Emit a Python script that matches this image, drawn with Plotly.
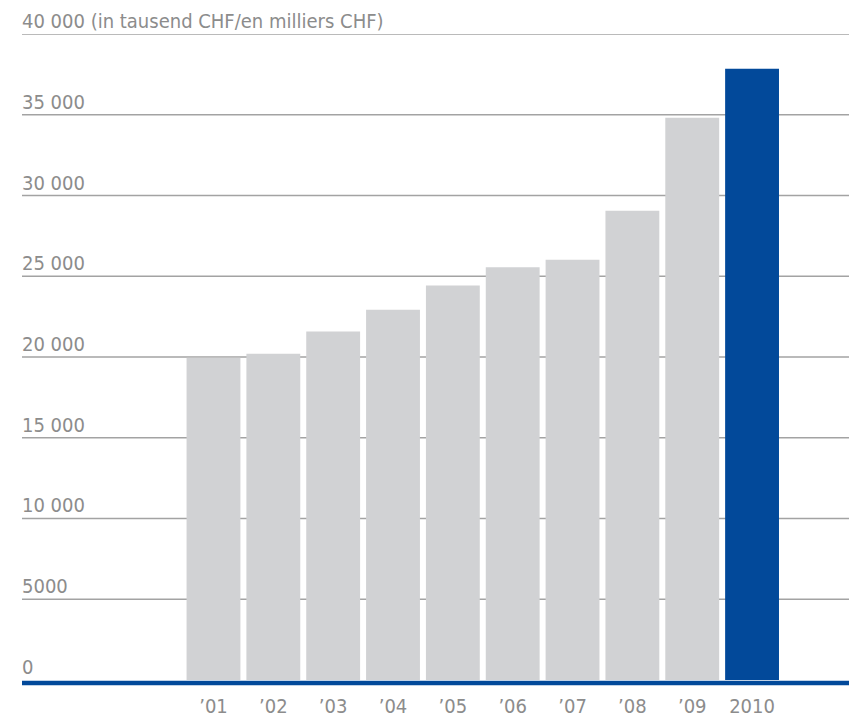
import plotly.graph_objects as go

categories = ["’01", "’02", "’03", "’04", "’05", "’06", "’07", "’08", "’09", "2010"]
values = [19950, 20200, 21580, 22920, 24430, 25550, 26020, 29060, 34820, 37850]
bar_colors = ["#d1d2d4"] * 9 + ["#02499a"]
grid_values = [5000, 10000, 15000, 20000, 25000, 30000, 35000, 40000]
grid_labels = ["5000", "10 000", "15 000", "20 000", "25 000", "30 000", "35 000",
               "40 000 (in tausend CHF/en milliers CHF)"]

FONT = "DejaVu Sans Condensed, Liberation Sans Narrow, Roboto, Arial, sans-serif"
TXT = "#8c8c8c"

fig = go.Figure()
fig.add_trace(go.Bar(x=categories, y=values, marker=dict(color=bar_colors, line=dict(width=0)),
                     hoverinfo="x+y"))

shapes = []
for v in grid_values:
    shapes.append(dict(type="line", xref="paper", yref="y", x0=0, x1=1, y0=v, y1=v,
                       line=dict(color="#a3a3a3", width=1.5), layer="below"))
shapes.append(dict(type="line", xref="paper", yref="y", x0=0, x1=1, y0=-190, y1=-190,
                   line=dict(color="#02499a", width=4.5), layer="above"))

annotations = [dict(x=0, xref="paper", y=0, yref="y", text="0", showarrow=False,
                    xanchor="left", yanchor="bottom", yshift=-1, xshift=-2,
                    font=dict(family=FONT, size=20, color=TXT))]
for v, t in zip(grid_values, grid_labels):
    annotations.append(dict(x=0, xref="paper", y=v, yref="y", text=t, showarrow=False,
                            xanchor="left", yanchor="bottom", yshift=-1, xshift=-2,
                            font=dict(family=FONT, size=20, color=TXT)))

fig.update_layout(
    width=849, height=720,
    margin=dict(l=22, r=0, t=34, b=34),
    paper_bgcolor="white", plot_bgcolor="white",
    bargap=0.1,
    showlegend=False,
    shapes=shapes,
    annotations=annotations,
    xaxis=dict(type="category", range=[-3.2, 10.62], showgrid=False, zeroline=False,
               showline=False, ticks="", ticklabelstandoff=6,
               tickfont=dict(family=FONT, size=20, color=TXT)),
    yaxis=dict(range=[-372, 40000], showgrid=False, zeroline=False, showline=False,
               showticklabels=False, ticks=""),
)

fig.write_html("out.html")
